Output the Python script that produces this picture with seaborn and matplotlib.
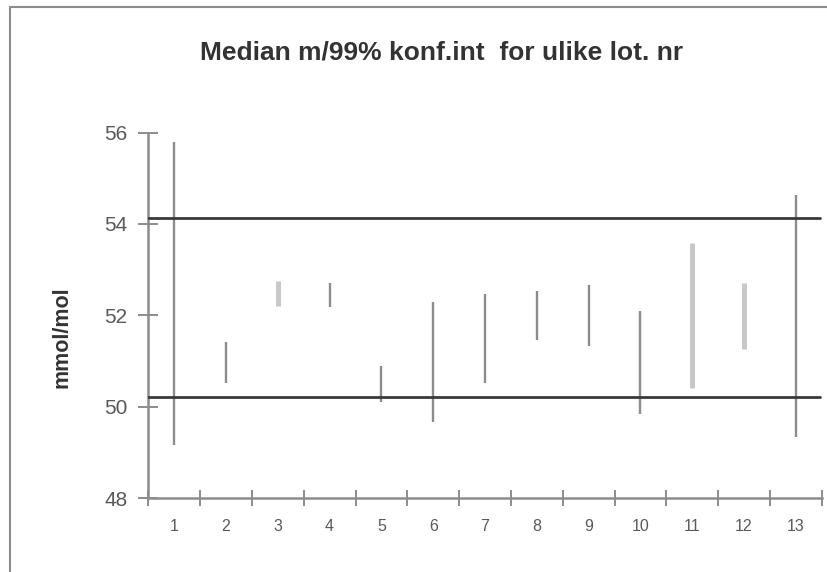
import matplotlib
matplotlib.use("Agg")
import matplotlib.pyplot as plt
import seaborn as sns
import pandas as pd
from matplotlib.lines import Line2D

sns.set_theme(style="white")
plt.rcParams['font.family'] = ['Liberation Sans', 'DejaVu Sans']

lots = list(range(1, 14))
low = [49.17, 50.53, 52.20, 52.19, 50.10, 49.66, 50.53, 51.46, 51.33, 49.84, 50.42, 51.27, 49.35]
high = [55.80, 51.42, 52.76, 52.71, 50.90, 52.30, 52.46, 52.53, 52.66, 52.10, 53.58, 52.70, 54.63]
light = [False, False, True, False, False, False, False, False, False, False, True, True, False]
upper_limit = 54.14
lower_limit = 50.22
yticks = [48, 50, 52, 54, 56]
title = "Median m/99% konf.int  for ulike lot. nr"
ylabel = "mmol/mol"

rows = []
for lot, lo, hi, lt in zip(lots, low, high, light):
    grp = "light" if lt else "dark"
    rows.append(dict(lot=lot, value=lo, grp=grp))
    rows.append(dict(lot=lot, value=hi, grp=grp))
df = pd.DataFrame(rows)

fig = plt.figure(figsize=(8.27, 5.72), dpi=100)
ax = fig.add_axes([148.3 / 827, 73.7 / 572, 673.4 / 827, 365.8 / 572])

dark_df = df[df.grp == "dark"]
light_df = df[df.grp == "light"]
sns.lineplot(data=dark_df, x="lot", y="value", units="lot", estimator=None,
             color="#8c8c8c", lw=1.7, ax=ax, legend=False, solid_capstyle="butt")
sns.lineplot(data=light_df, x="lot", y="value", units="lot", estimator=None,
             color="#c8c8c8", lw=3.6, ax=ax, legend=False, solid_capstyle="butt")

ax.axhline(upper_limit, xmin=0, xmax=0.9975, color="#3a3a3a", lw=2.0, zorder=3)
ax.axhline(lower_limit, xmin=0, xmax=0.9975, color="#3a3a3a", lw=2.0, zorder=3)

ax.set_xlim(0.5, 13.5)
ax.set_ylim(48, 56)
ax.set_yticks(yticks)
ax.set_yticklabels([str(t) for t in yticks])
ax.set_xticks([i + 0.5 for i in range(0, 14)])
ax.set_xticklabels([])
ax.set_xticks(lots, minor=True)
ax.set_xticklabels([str(l) for l in lots], minor=True)

for s in ["top", "right"]:
    ax.spines[s].set_visible(False)
for s in ["left", "bottom"]:
    ax.spines[s].set_color("#8c8c8c")
    ax.spines[s].set_linewidth(1.8)

ax.tick_params(axis="y", which="major", direction="inout", length=14, width=1.4,
               color="#8c8c8c", labelsize=15, labelcolor="#595959", pad=8, left=True)
ax.tick_params(axis="x", which="major", direction="inout", length=11, width=1.4,
               color="#8c8c8c", bottom=True)
ax.tick_params(axis="x", which="minor", length=0, labelsize=11.5, labelcolor="#595959", pad=15)
ax.set_xlabel("")
ax.set_ylabel("")
ax.grid(False)

fig.text(62 / 827, 1 - 337 / 572, ylabel, rotation=90, ha="center", va="center",
         fontsize=15.5, fontweight="bold", color="#333333")

fig.text(442 / 827, 1 - 59 / 572, title, ha="center", va="baseline",
         fontsize=19, fontweight="bold", color="#333333")

# chart-area frame (top and left edges)
fig.add_artist(Line2D([10 / 827, 10 / 827], [0, 1 - 7 / 572], transform=fig.transFigure,
                      color="#8c8c8c", lw=1.5))
fig.add_artist(Line2D([10 / 827, 1], [1 - 7 / 572, 1 - 7 / 572], transform=fig.transFigure,
                      color="#8c8c8c", lw=1.5))

fig.savefig("out.png", dpi=100)
